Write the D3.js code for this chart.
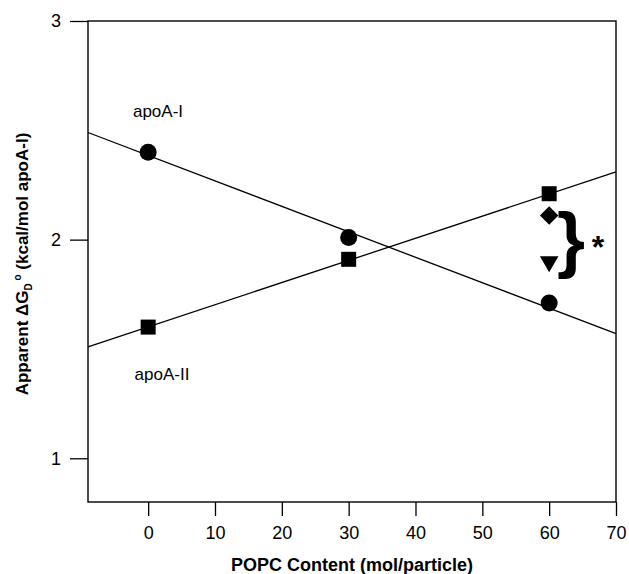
<!DOCTYPE html>
<meta charset="utf-8">
<style>

body { margin: 0; background: #fff; }
text { font-family: "Liberation Sans", Arial, sans-serif; fill: #000; }
.axis text { font-size: 18px; }
.axis path { display: none; }
.axis line { stroke: #000; stroke-width: 1.3px; }
.fit { fill: none; stroke: #000; stroke-width: 1.3px; }
.frame { fill: none; stroke: #000; stroke-width: 1.4px; }

</style>
<svg width="629" height="574">
  <rect fill="#fff" width="100%" height="100%"></rect>
</svg>
<script src="https://cdn.jsdelivr.net/npm/d3@7"></script>
<script>

// values
var xTicks = [0, 10, 20, 30, 40, 50, 60, 70],
    yTicks = [1, 2, 3];

var apoA1 = [[0, 2.40], [30, 2.01], [60, 1.71]],
    apoA2 = [[0, 1.60], [30, 1.91], [60, 2.21]],
    diamondPts = [[60, 2.11]],
    trianglePts = [[60, 1.90]];

// fitted lines, ends at the plot edges
var fitA1 = [[-9, 2.49], [70, 1.57]],
    fitA2 = [[-9, 1.51], [70, 2.31]];

var svg = d3.select("svg");

var x = d3.scaleLinear().domain([-9, 70]).range([88, 616]),
    y = d3.scaleLinear().domain([0.8, 3]).range([502, 21]);

var line = d3.line()
    .x(function(d) { return x(d[0]); })
    .y(function(d) { return y(d[1]); });

svg.append("g")
    .attr("class", "axis")
    .attr("transform", "translate(0,502)")
    .call(d3.axisBottom(x).tickValues(xTicks).tickSize(14).tickSizeOuter(0).tickPadding(10));

svg.append("g")
    .attr("class", "axis")
    .attr("transform", "translate(88,0)")
    .call(d3.axisLeft(y).tickValues(yTicks).tickFormat(d3.format("d")).tickSize(18).tickSizeOuter(0).tickPadding(9));

svg.append("rect")
    .attr("class", "frame")
    .attr("x", x.range()[0])
    .attr("y", y.range()[1])
    .attr("width", x.range()[1] - x.range()[0])
    .attr("height", y.range()[0] - y.range()[1]);

svg.selectAll(".fit")
    .data([fitA1, fitA2])
  .enter().append("path")
    .attr("class", "fit")
    .attr("d", line);

svg.selectAll(".circ")
    .data(apoA1)
  .enter().append("circle")
    .attr("cx", function(d) { return x(d[0]); })
    .attr("cy", function(d) { return y(d[1]); })
    .attr("r", 8.5);

svg.selectAll(".sq")
    .data(apoA2)
  .enter().append("rect")
    .attr("x", function(d) { return x(d[0]) - 7.5; })
    .attr("y", function(d) { return y(d[1]) - 7.5; })
    .attr("width", 15)
    .attr("height", 15);

svg.selectAll(".dia")
    .data(diamondPts)
  .enter().append("path")
    .attr("transform", function(d) { return "translate(" + x(d[0]) + "," + y(d[1]) + ") rotate(45)"; })
    .attr("d", d3.symbol(d3.symbolSquare, 170));

svg.selectAll(".tri")
    .data(trianglePts)
  .enter().append("path")
    .attr("transform", function(d) { return "translate(" + x(d[0]) + "," + y(d[1]) + ") rotate(180)"; })
    .attr("d", d3.symbol(d3.symbolTriangle, 150));

svg.append("text")
    .attr("x", 158)
    .attr("y", 117)
    .attr("text-anchor", "middle")
    .style("font-size", "17px")
    .text("apoA-I");

svg.append("text")
    .attr("x", 162)
    .attr("y", 380)
    .attr("text-anchor", "middle")
    .style("font-size", "17px")
    .text("apoA-II");

svg.append("text")
    .attr("x", 571)
    .attr("y", 264)
    .attr("text-anchor", "middle")
    .style("font-size", "72px")
    .style("font-weight", "bold")
    .text("}");

svg.append("text")
    .attr("x", 598)
    .attr("y", 258)
    .attr("text-anchor", "middle")
    .style("font-size", "32px")
    .style("font-weight", "bold")
    .text("*");

svg.append("text")
    .attr("x", 352)
    .attr("y", 571)
    .attr("text-anchor", "middle")
    .style("font-size", "18px")
    .style("font-weight", "bold")
    .text("POPC Content (mol/particle)");

var yt = svg.append("text")
    .attr("transform", "translate(28,264) rotate(-90)")
    .attr("text-anchor", "middle")
    .style("font-size", "17px")
    .style("font-weight", "bold");

yt.append("tspan").text("Apparent \u0394G");
yt.append("tspan").attr("dy", 4).style("font-size", "10px").text("D");
yt.append("tspan").attr("dy", -11).style("font-size", "10px").text(" o");
yt.append("tspan").attr("dy", 7).text(" (kcal/mol apoA-I)");

</script>
